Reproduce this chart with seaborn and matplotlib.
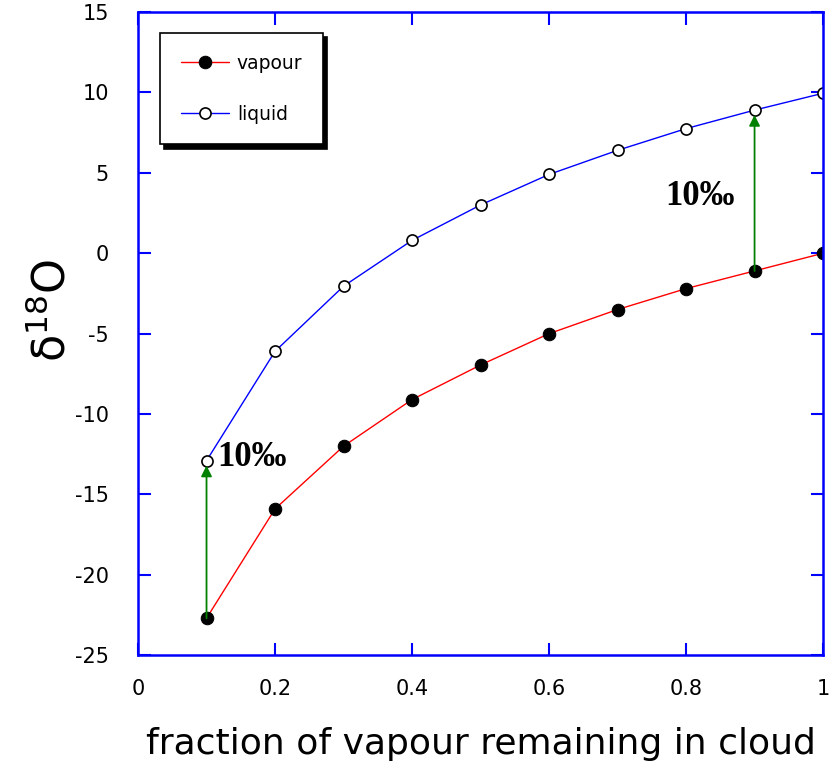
import matplotlib
matplotlib.use("Agg")
import matplotlib.pyplot as plt
import seaborn as sns
import pandas as pd

fraction = [0.1, 0.2, 0.3, 0.4, 0.5, 0.6, 0.7, 0.8, 0.9, 1.0]
vapour = [-22.7, -15.9, -12.0, -9.1, -6.95, -5.0, -3.5, -2.2, -1.1, 0.0]
liquid = [-12.9, -6.1, -2.05, 0.8, 3.0, 4.9, 6.4, 7.75, 8.9, 9.95]
arrow_x = [0.1, 0.9]
arrow_label = "10‰"

sns.set_style("white")
plt.rcParams['font.family'] = ['DejaVu Sans']
plt.rcParams['axes.unicode_minus'] = False
plt.rcParams['mathtext.default'] = 'regular'
plt.rcParams['text.color'] = 'black'
plt.rcParams['axes.labelcolor'] = 'black'

df = pd.DataFrame({"x": fraction * 2,
                   "d18O": vapour + liquid,
                   "phase": ["vapour"] * len(fraction) + ["liquid"] * len(fraction)})

fig = plt.figure(figsize=(8.39, 7.81), dpi=100)
ax = fig.add_axes([0.1645, 0.161, 0.8165, 0.8236])

sns.lineplot(data=df[df.phase == "vapour"], x="x", y="d18O", ax=ax, color="red",
             lw=1, marker="o", markersize=9, markerfacecolor="black",
             markeredgecolor="black", label="vapour")
sns.lineplot(data=df[df.phase == "liquid"], x="x", y="d18O", ax=ax, color="blue",
             lw=1, marker="o", markersize=8, markerfacecolor="white",
             markeredgecolor="black", markeredgewidth=1.2, label="liquid")

# green arrows: liquid minus vapour = 10 permil
for xa in arrow_x:
    i = fraction.index(xa)
    ax.annotate("", xy=(xa, liquid[i] - 0.3), xytext=(xa, vapour[i]),
                arrowprops=dict(arrowstyle="-|>", color="green", lw=1.3,
                                mutation_scale=16, shrinkA=0, shrinkB=0))

ax.text(0.116, -12.7, arrow_label, family="Liberation Serif", fontsize=25,
        fontweight="bold", va="center", ha="left")
ax.text(0.77, 3.5, arrow_label, family="Liberation Serif", fontsize=25,
        fontweight="bold", va="center", ha="left")

ax.set_xlim(0, 1)
ax.set_ylim(-25, 15)
ax.set_xticks([0, 0.2, 0.4, 0.6, 0.8, 1])
ax.set_xticklabels(["0", "0.2", "0.4", "0.6", "0.8", "1"])
ax.set_yticks(range(-25, 16, 5))
ax.tick_params(direction="in", length=9, width=1.5, color="blue",
               labelsize=15, labelcolor="black", top=True, right=True,
               bottom=True, left=True)
ax.tick_params(axis="x", pad=17)
ax.tick_params(axis="y", pad=21)
for s in ax.spines.values():
    s.set_color("blue")
    s.set_linewidth(1.8)

ax.set_xlabel("fraction of vapour remaining in cloud", fontsize=26, labelpad=20)
ax.set_ylabel("")
fig.text(0.062, 0.603, "δ$^{18}$O", fontsize=32, rotation=90,
         ha="center", va="center")

leg = ax.legend(loc="upper left", bbox_to_anchor=(0.032, 0.967), borderaxespad=0,
                frameon=True, fancybox=False,
                shadow={"color": "black", "alpha": 1, "ox": 3, "oy": -3},
                edgecolor="black", fontsize=13.5, handlelength=2.6,
                borderpad=1.1, labelspacing=1.7, handletextpad=0.4)
leg.get_frame().set_linewidth(1.2)

fig.savefig("out.png", dpi=100)
